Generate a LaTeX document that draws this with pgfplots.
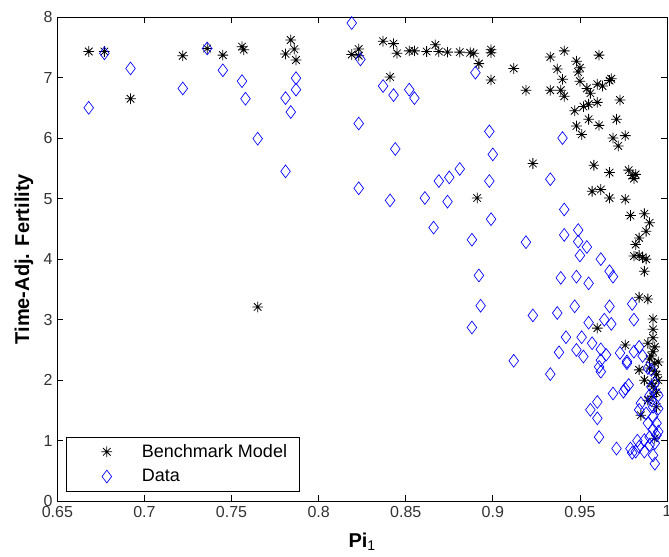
\documentclass[border=0pt]{standalone}
\usepackage{fontspec}
\setmainfont{Liberation Sans}
\usepackage{pgfplots}
\pgfplotsset{compat=1.18}

% MATLAB-style '*' marker: plus and cross on top of each other
\pgfdeclareplotmark{mstar}{%
  \pgfpathmoveto{\pgfqpoint{-\pgfplotmarksize}{0pt}}%
  \pgfpathlineto{\pgfqpoint{\pgfplotmarksize}{0pt}}%
  \pgfpathmoveto{\pgfqpoint{0pt}{-\pgfplotmarksize}}%
  \pgfpathlineto{\pgfqpoint{0pt}{\pgfplotmarksize}}%
  \pgfpathmoveto{\pgfqpoint{-.707\pgfplotmarksize}{-.707\pgfplotmarksize}}%
  \pgfpathlineto{\pgfqpoint{.707\pgfplotmarksize}{.707\pgfplotmarksize}}%
  \pgfpathmoveto{\pgfqpoint{-.707\pgfplotmarksize}{.707\pgfplotmarksize}}%
  \pgfpathlineto{\pgfqpoint{.707\pgfplotmarksize}{-.707\pgfplotmarksize}}%
  \pgfusepathqstroke
}

\pgfplotstableread{
x y
0.668 7.43
0.677 7.43
0.692 6.65
0.722 7.36
0.736 7.48
0.745 7.37
0.756 7.51
0.757 7.46
0.781 7.39
0.784 7.62
0.786 7.47
0.787 7.29
0.765 3.21
0.819 7.38
0.823 7.47
0.823 7.36
0.837 7.60
0.843 7.56
0.845 7.40
0.841 7.01
0.852 7.44
0.855 7.44
0.862 7.43
0.867 7.54
0.869 7.43
0.874 7.42
0.881 7.42
0.887 7.41
0.889 7.40
0.892 7.23
0.899 7.46
0.899 7.41
0.899 6.96
0.912 7.15
0.891 5.01
0.919 6.79
0.923 5.58
0.933 7.34
0.933 6.79
0.937 7.14
0.940 6.97
0.939 6.79
0.941 6.69
0.941 7.44
0.948 7.27
0.950 7.16
0.949 7.09
0.950 6.94
0.947 6.45
0.948 6.20
0.951 6.06
0.952 6.52
0.954 6.82
0.956 6.74
0.955 6.31
0.955 6.56
0.960 6.59
0.961 7.37
0.961 6.21
0.960 6.89
0.963 6.86
0.968 6.98
0.967 6.95
0.971 6.31
0.973 6.63
0.969 6.00
0.972 5.87
0.976 6.04
0.958 5.55
0.967 5.43
0.978 5.47
0.982 5.40
0.980 5.38
0.981 5.33
0.957 5.12
0.962 5.15
0.967 5.01
0.976 4.99
0.979 4.72
0.987 4.75
0.990 4.60
0.988 4.46
0.984 4.35
0.982 4.24
0.981 4.05
0.984 4.06
0.986 4.03
0.988 4.00
0.987 3.80
0.984 3.37
0.989 3.34
0.992 3.01
0.992 2.84
0.960 2.86
0.976 2.58
0.989 2.61
0.992 2.47
0.984 2.17
0.987 2.00
0.993 2.28
0.994 2.09
0.992 1.89
0.989 1.67
0.985 1.42
0.994 1.56
0.991 2.40
0.990 2.20
0.993 2.15
0.995 2.00
0.991 1.95
0.993 2.55
0.990 2.35
0.994 1.80
0.995 2.30
0.992 2.70
0.992 1.73
0.993 1.04
}\benchmark

\pgfplotstableread{
x y
0.668 6.50
0.677 7.40
0.692 7.15
0.722 6.82
0.736 7.48
0.745 7.12
0.756 6.94
0.758 6.65
0.765 5.99
0.781 6.66
0.784 6.43
0.781 5.45
0.787 6.99
0.787 6.80
0.819 7.90
0.824 7.30
0.837 6.86
0.843 6.71
0.852 6.80
0.855 6.66
0.823 6.24
0.844 5.82
0.898 6.11
0.900 5.73
0.881 5.49
0.875 5.35
0.869 5.29
0.898 5.29
0.823 5.17
0.890 7.08
0.841 4.97
0.861 5.01
0.874 4.95
0.899 4.66
0.866 4.52
0.888 4.32
0.892 3.73
0.893 3.23
0.888 2.87
0.912 2.32
0.940 6.00
0.933 5.32
0.919 4.28
0.941 4.82
0.941 4.40
0.949 4.48
0.949 4.29
0.954 4.20
0.950 4.06
0.962 4.00
0.967 3.80
0.969 3.71
0.939 3.69
0.948 3.71
0.955 3.60
0.923 3.07
0.937 3.11
0.947 3.22
0.967 3.22
0.980 3.26
0.981 3.00
0.955 2.95
0.964 3.00
0.968 2.93
0.942 2.71
0.938 2.46
0.951 2.71
0.948 2.50
0.952 2.39
0.962 2.51
0.957 2.61
0.962 2.33
0.961 2.22
0.962 2.14
0.933 2.10
0.969 1.78
0.975 1.81
0.978 1.92
0.976 1.86
0.960 1.64
0.956 1.51
0.960 1.37
0.961 1.06
0.971 0.87
0.979 0.87
0.982 0.82
0.984 0.90
0.987 0.82
0.990 0.93
0.993 0.62
0.992 0.76
0.973 2.45
0.977 2.31
0.981 2.47
0.984 2.55
0.986 2.40
0.989 2.20
0.991 2.17
0.984 1.51
0.990 1.75
0.991 1.67
0.992 1.40
0.989 1.29
0.992 1.18
0.994 1.09
0.990 1.06
0.987 1.01
0.995 1.53
0.994 1.29
0.985 1.62
0.991 1.89
0.992 1.56
0.993 0.96
0.965 2.42
0.977 2.28
0.993 1.95
0.995 1.75
0.988 1.45
0.995 1.15
0.983 1.00
0.980 0.80
}\data

\begin{document}
\begin{tikzpicture}
\begin{axis}[
   name=ax,
   scale only axis,
   width=457pt, height=363pt,
   xmin=0.65, xmax=1, ymin=0, ymax=8,
   xtick={0.65,0.7,0.75,0.8,0.85,0.9,0.95,1},
   ytick={0,1,...,8},
   tick align=inside,
   tick pos=both,
   major tick length=4.5pt,
   axis line style={black, line width=0.6pt},
   tick style={black, line width=0.5pt},
   /pgf/number format/assume math mode=true,
   tick label style={font=\fontsize{12}{14}\selectfont, text=black!80},
   xlabel={Pi\textsubscript{\mdseries 1}},
   ylabel={Time-Adj. Fertility},
   label style={font=\fontsize{15}{18}\selectfont\bfseries, inner sep=0pt},
   xlabel style={at={(axis description cs:0.5,-0.066)}, anchor=north},
   ylabel style={at={(axis description cs:-0.0547,0.5)}, anchor=center},
   legend cell align=left,
   legend style={at={(0.0143,0.0207)}, anchor=south west,
      draw=black, line width=0.5pt, inner xsep=9pt, inner ysep=1.5pt,
      font=\fontsize{13.5}{16}\selectfont,
      nodes={inner sep=0pt}, column sep=9.25pt},
   legend image code/.code={%
      \path (-21pt,-9pt) (16.75pt,9pt);
      \draw[#1] plot coordinates {(0pt,0pt)};},
]
\addplot[only marks, mark=mstar, mark size=4pt, black, line width=0.6pt]
   table[x=x, y=y] {\benchmark};
\addlegendentry{Benchmark Model}
\addplot[only marks, mark=diamond, mark size=4.8pt, blue, line width=0.5pt]
   table[x=x, y=y] {\data};
\addlegendentry{Data}
\end{axis}
\pgfresetboundingbox
\useasboundingbox ([shift={(-43pt,-41.25pt)}]ax.south west)
   rectangle ([shift={(1.5pt,12.75pt)}]ax.north east);
\end{tikzpicture}
\end{document}
